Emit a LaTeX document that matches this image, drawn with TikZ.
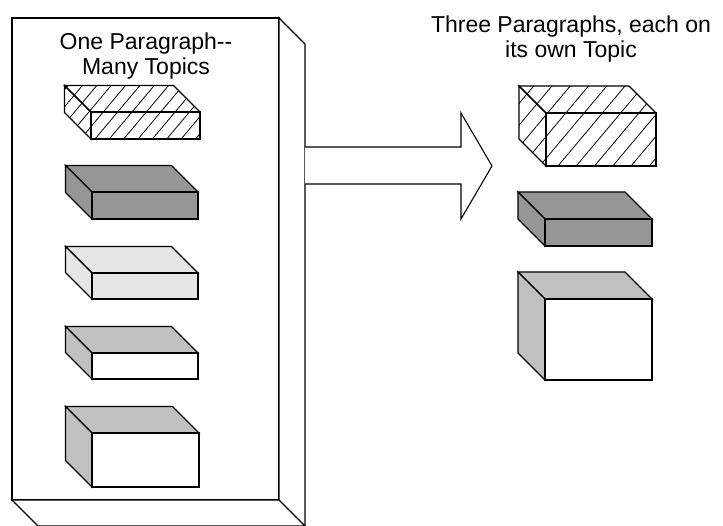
\documentclass[tikz,border=0pt]{standalone}
\usepackage{fontspec}
\setmainfont{Liberation Sans}
\usetikzlibrary{patterns.meta}
\definecolor{dgray}{HTML}{969696}
\definecolor{lgray}{HTML}{E6E6E6}
\definecolor{mgray}{HTML}{C0C0C0}
\tikzset{
  edge/.style={draw=black,line width=1.1pt,line join=miter},
  lbl/.style={font=\fontsize{23}{25}\selectfont, inner sep=0pt, anchor=base},
  hatch/.style={pattern={Lines[angle=50,distance=#1,line width=0.8pt]}}
}
% x1 y1 x2 y2 depth topstyle sidestyle frontstyle
\newcommand\cub[8]{%
  \path[edge,#6] (#1-#5,#2-#5) -- (#3-#5,#2-#5) -- (#3,#2) -- (#1,#2) -- cycle;
  \path[edge,#7] (#1-#5,#2-#5) -- (#1,#2) -- (#1,#4) -- (#1-#5,#4-#5) -- cycle;
  \path[edge,#8] (#1,#2) rectangle (#3,#4);
}
% hatched cuboid: x1 y1 x2 y2 depth distance
\newcommand\hcub[6]{%
  \fill[white] (#1-#5,#2-#5) -- (#3-#5,#2-#5) -- (#3,#2) -- (#3,#4) -- (#1,#4) -- (#1-#5,#4-#5) -- cycle;
  \path[hatch=#6] (#1-#5,#2-#5) -- (#3-#5,#2-#5) -- (#3,#2) -- (#3,#4) -- (#1,#4) -- (#1-#5,#4-#5) -- cycle;
  \cub{#1}{#2}{#3}{#4}{#5}{}{}{}
}
\begin{document}
\begin{tikzpicture}[x=1pt,y=-1pt]
\useasboundingbox (0,0) rectangle (723,526);
\clip (0,0) rectangle (723,526);
% big panel
\path[edge,fill=white] (12,18) rectangle (279,500);
\path[edge,fill=white] (279,18) -- (305,44) -- (305,540) -- (279,500) -- cycle;
\path[edge,fill=white] (12,500) -- (279,500) -- (305,526) -- (38,526) -- cycle;
% arrow
\path[edge,fill=white] (305,147) -- (461,147) -- (461,113) -- (492,166) -- (461,219) -- (461,184) -- (305,184);
% left boxes
\hcub{91}{112}{200}{139}{26.5}{11pt}
\cub{92}{192}{198}{219}{26.5}{fill=dgray}{fill=dgray}{fill=dgray}
\cub{92}{273}{198}{299}{26.5}{fill=lgray}{fill=lgray}{fill=lgray}
\cub{92}{353}{198}{379}{26.5}{fill=mgray}{fill=mgray}{fill=white}
\cub{92}{433}{199}{487}{26.5}{fill=mgray}{fill=mgray}{fill=white}
% right boxes
\hcub{546}{113}{656}{166}{27}{14pt}
\cub{545}{219}{652}{246}{27}{fill=dgray}{fill=dgray}{fill=dgray}
\cub{545}{299}{652}{380}{27}{fill=mgray}{fill=mgray}{fill=white}
% labels
\node[lbl] (t1a) at (146,50) {One Paragraph-\kern0pt-};
\node[lbl] (t1b) at (146,75) {Many Topics};
\node[lbl] (t2a) at (571,33) {Three Paragraphs, each on};
\node[lbl] (t2b) at (571,58) {its own Topic};
\end{tikzpicture}
\end{document}
